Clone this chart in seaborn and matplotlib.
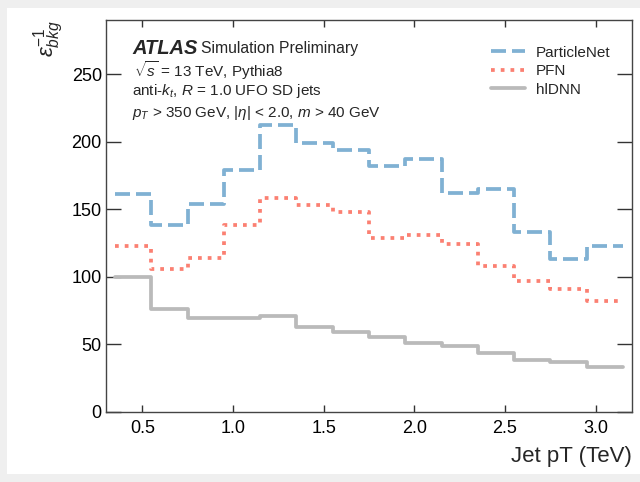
import matplotlib
matplotlib.use("Agg")
import matplotlib.pyplot as plt
import matplotlib.patches as mpatches
import numpy as np
import pandas as pd
import seaborn as sns

# ---- data ----
bin_edges = [0.35, 0.55, 0.75, 0.95, 1.15, 1.35, 1.55, 1.75, 1.95, 2.15, 2.35, 2.55, 2.75, 2.95, 3.15]
particlenet = [161, 138, 154, 179, 212, 199, 194, 182, 187, 162, 165, 133, 113, 123]
pfn = [123, 106, 114, 138, 158, 153, 148, 129, 131, 124, 108, 97, 91, 82]
hldnn = [100, 76, 69.5, 69.2, 71, 63, 59.5, 55.5, 51, 49, 43.5, 38.5, 37, 33.5]
series_names = ["ParticleNet", "PFN", "hlDNN"]
x_ticks = [0.5, 1.0, 1.5, 2.0, 2.5, 3.0]
y_ticks = [0, 50, 100, 150, 200, 250]

sns.set_theme(style="ticks")
plt.rcParams["font.family"] = ["Liberation Sans", "DejaVu Sans"]
plt.rcParams["mathtext.fontset"] = "custom"
plt.rcParams["mathtext.rm"] = "Liberation Sans"
plt.rcParams["mathtext.it"] = "Liberation Sans:italic"
plt.rcParams["mathtext.bf"] = "Liberation Sans:bold"

fig = plt.figure(figsize=(6.4, 4.82), dpi=100, facecolor="#efefef")
fig.patches.append(mpatches.Rectangle((7 / 640, 8 / 482), 1, 466 / 482,
                                      transform=fig.transFigure, facecolor="white",
                                      edgecolor="none", zorder=-10))
ax = fig.add_axes([106 / 640, 1 - 412 / 482, 526 / 640, 392 / 482])

rows = []
for name, vals in zip(series_names, [particlenet, pfn, hldnn]):
    ys = list(vals) + [vals[-1]]
    for xe, yv in zip(bin_edges, ys):
        rows.append({"pt": xe, "val": yv, "model": name})
df = pd.DataFrame(rows)

styles = {
    "ParticleNet": dict(color="#80b1d3", linestyle=(0, (4.0, 1.6))),
    "PFN": dict(color="#fb8072", linestyle=(0, (1, 1.6))),
    "hlDNN": dict(color="#bababa", linestyle="-"),
}
for name in series_names:
    sub = df[df["model"] == name]
    sns.lineplot(data=sub, x="pt", y="val", ax=ax, drawstyle="steps-post",
                 linewidth=2.7, label=name, **styles[name])

ax.set_xlim(0.3, 3.2)
ax.set_ylim(0, 290)
ax.set_xticks(x_ticks)
ax.set_xticklabels([f"{t:.1f}" for t in x_ticks])
ax.set_yticks(y_ticks)
ax.set_yticklabels([str(t) for t in y_ticks])
ax.tick_params(axis="x", direction="in", length=5, width=1, top=True, labelsize=13,
               pad=6, colors="#333333", labelcolor="black")
ax.tick_params(axis="y", direction="in", length=11, width=1, right=True, labelsize=13,
               pad=3, colors="#333333", labelcolor="black")
for s in ax.spines.values():
    s.set_color("#444444")
    s.set_linewidth(1.0)

ax.set_xlabel("Jet pT (TeV)", fontsize=16, loc="right", labelpad=6)
ax.set_ylabel(r"$\varepsilon^{-1}_{bkg}$", fontsize=16, loc="top", labelpad=4)

ax.text(0.05, 0.928, "ATLAS", transform=ax.transAxes, fontsize=14.5,
        fontweight="bold", fontstyle="italic", va="center")
ax.text(0.18, 0.928, "Simulation Preliminary", transform=ax.transAxes,
        fontsize=11.3, va="center")
ax.text(0.053, 0.871, r"$\sqrt{s}$ = 13 TeV, Pythia8", transform=ax.transAxes,
        fontsize=11, va="center")
ax.text(0.05, 0.820, r"anti-$k_{t}$, $R$ = 1.0 UFO SD jets", transform=ax.transAxes,
        fontsize=11, va="center")
ax.text(0.05, 0.762, r"$p_{T}$ > 350 GeV, $|\eta|$ < 2.0, $m$ > 40 GeV",
        transform=ax.transAxes, fontsize=11, va="center")

leg = ax.legend(loc="upper right", bbox_to_anchor=(0.985, 0.97), frameon=False,
                fontsize=11, handlelength=2.2, handletextpad=0.7, labelspacing=0.3)

fig.savefig("out.png", dpi=100, facecolor=fig.get_facecolor())
